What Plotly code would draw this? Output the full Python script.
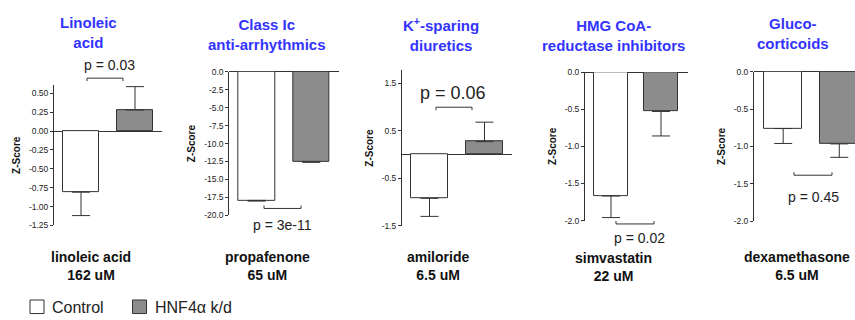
import plotly.graph_objects as go

# ---------------- data ----------------
groups = ["Control", "HNF4α k/d"]
group_fill = ["white", "#8c8c8c"]
titles = ["Linoleic<br>acid", "Class Ic<br>anti-arrhythmics", "K<sup>+</sup>-sparing<br>diuretics",
          "HMG CoA-<br>reductase inhibitors", "Gluco-<br>corticoids"]
drugs = ["linoleic acid", "propafenone", "amiloride", "simvastatin", "dexamethasone"]
doses = ["162 uM", "65 uM", "6.5 uM", "22 uM", "6.5 uM"]
control_z = [-0.81, -17.93, -0.92, -1.67, -0.76]
control_err = [0.31, 0.10, 0.38, 0.29, 0.20]
hnf_z = [0.28, -12.6, 0.275, -0.53, -0.966]
hnf_err = [0.31, 0.0, 0.41, 0.33, 0.18]
p_values = ["0.03", "3e-11", "0.06", "0.02", "0.45"]
tick_vals = [
    [0.5, 0.25, 0.0, -0.25, -0.5, -0.75, -1.0, -1.25],
    [0.0, -2.5, -5.0, -7.5, -10.0, -12.5, -15.0, -17.5, -20.0],
    [1.5, 0.5, -0.5, -1.5],
    [0.0, -0.5, -1.0, -1.5, -2.0],
    [0.0, -0.5, -1.0, -1.5, -2.0],
]
tick_text = [
    ["0.50", "0.25", "0.00", "-0.25", "-0.50", "-0.75", "-1.00", "-1.25"],
    ["0.0", "-2.5", "-5.0", "-7.5", "-10.0", "-12.5", "-15.0", "-17.5", "-20.0"],
    ["1.5", "0.5", "-0.5", "-1.5"],
    ["0.0", "-0.5", "-1.0", "-1.5", "-2.0"],
    ["0.0", "-0.5", "-1.0", "-1.5", "-2.0"],
]

# ---------------- layout geometry (pixels) ----------------
W, H = 855, 320
def X(px):
    return px / W
def Y(py):
    return (H - py) / H

# x domain px, y domain px (top, bottom), x range, y range
panels = [
    dict(xd=(54, 162), yd=(82.7, 227.5), xr=[-0.5, 1.5], yr=[-1.25, 0.61], bw=0.667),
    dict(xd=(229.3, 338.5), yd=(69, 217), xr=[-0.5, 1.5], yr=[-20, 0], bw=0.67),
    dict(xd=(402, 512), yd=(67.3, 228), xr=[-0.5, 1.5], yr=[-1.5, 1.78], bw=0.655),
    dict(xd=(585, 688), yd=(69.3, 222.5), xr=[-0.52, 1.54], yr=[-2, 0], bw=0.68),
    dict(xd=(754, 855), yd=(69, 223), xr=[-0.52, 1.28], yr=[-2, 0], bw=0.68),
]
title_pos = [(88, 28), (267, 30.5), (441, 30), (613, 31), (793, 29.5)]
label_pos = [(91, 269.5), (267, 269.5), (438, 269.5), (613, 270.5), (797, 269.5)]
p_pos = [(109, 62), (282, 227), (453, 91), (639, 240), (813, 198)]
p_size = [14, 14, 18, 14, 14]
# bracket: x0, x1, y of line, direction of end ticks (+1 down, -1 up)
brackets = [(87, 123, 75.5, 1), (264, 301, 210, -1), (436, 472, 105.5, 1),
            (616, 654, 226, -1), (794, 832, 175.7, -1)]
# legend: box left x, text left x ; shared box top/bottom and text centre y
legend_items = [(30, 50), (132.5, 153)]
legend_box_y = (304.5, 318.5)
legend_text_y = 312

FONT = "Liberation Sans, Arial, sans-serif"
EDGE = "#333333"
fig = go.Figure()

for i, p in enumerate(panels):
    xa = "x" if i == 0 else f"x{i+1}"
    ya = "y" if i == 0 else f"y{i+1}"
    for g, vals, errs in [(0, control_z, control_err), (1, hnf_z, hnf_err)]:
        v = vals[i]
        e = errs[i]
        fig.add_trace(go.Bar(
            x=[g], y=[v], width=p["bw"], name=groups[g],
            legendgroup=groups[g], showlegend=False,
            marker=dict(color=group_fill[g], line=dict(color=EDGE, width=1)),
            error_y=dict(type="data", symmetric=False,
                         array=[e if v >= 0 else 0], arrayminus=[e if v < 0 else 0],
                         color=EDGE, thickness=1, width=9),
            xaxis=xa, yaxis=ya,
        ))
    sfx = "" if i == 0 else str(i + 1)
    fig.layout["xaxis" + sfx] = dict(domain=[X(p["xd"][0]), X(p["xd"][1])], range=p["xr"],
                                     visible=False, fixedrange=True)
    fig.layout["yaxis" + sfx] = dict(
        domain=[Y(p["yd"][1]), Y(p["yd"][0])], range=p["yr"], anchor=xa,
        showgrid=False, zeroline=True, zerolinecolor=EDGE, zerolinewidth=1,
        showline=True, linecolor=EDGE, linewidth=1, ticks="outside", ticklen=3,
        tickcolor=EDGE, tickvals=tick_vals[i], ticktext=tick_text[i],
        tickfont=dict(family=FONT, size=8.5, color="#222"),
        title=dict(text="<b>Z-Score</b>", font=dict(family=FONT, size=10, color="#111"), standoff=6),
    )
    # titles
    fig.add_annotation(x=X(title_pos[i][0]), y=Y(title_pos[i][1]), xref="paper", yref="paper",
                       text=f"<b>{titles[i]}</b>", showarrow=False, xanchor="center", yanchor="middle",
                       font=dict(family=FONT, size=15, color="#3333ff"))
    # drug labels
    fig.add_annotation(x=X(label_pos[i][0]), y=Y(label_pos[i][1]), xref="paper", yref="paper",
                       text=f"<b>{drugs[i]}<br>{doses[i]}</b>", showarrow=False,
                       xanchor="center", yanchor="middle",
                       font=dict(family=FONT, size=14, color="#111"))
    # p-values
    fig.add_annotation(x=X(p_pos[i][0]), y=Y(p_pos[i][1]), xref="paper", yref="paper",
                       text=f"p = {p_values[i]}", showarrow=False, xanchor="center", yanchor="middle",
                       font=dict(family=FONT, size=p_size[i], color="#222"))
    bx0, bx1, by, d = brackets[i]
    path = (f"M {X(bx0)} {Y(by + 3*d)} L {X(bx0)} {Y(by)} L {X(bx1)} {Y(by)} L {X(bx1)} {Y(by + 3*d)}")
    fig.add_shape(type="path", path=path, xref="paper", yref="paper",
                  line=dict(color=EDGE, width=1))

# legend (keys + labels)
for g, (bx, tx) in enumerate(legend_items):
    fig.add_shape(type="rect", xref="paper", yref="paper",
                  x0=X(bx), x1=X(bx + 14), y0=Y(legend_box_y[1]), y1=Y(legend_box_y[0]),
                  fillcolor=group_fill[g], line=dict(color=EDGE, width=1))
    fig.add_annotation(x=X(tx), y=Y(legend_text_y), xref="paper", yref="paper",
                       text=groups[g], showarrow=False, xanchor="left", yanchor="middle",
                       font=dict(family=FONT, size=16, color="#222"))

fig.update_layout(
    width=W, height=H, margin=dict(l=0, r=0, t=0, b=0),
    paper_bgcolor="white", plot_bgcolor="white",
    barmode="overlay", bargap=0,
    showlegend=False,
    font=dict(family=FONT),
)

fig.write_html("out.html", config={"displayModeBar": False},
               post_script="document.body.style.margin='0';document.body.style.overflow='hidden';")
